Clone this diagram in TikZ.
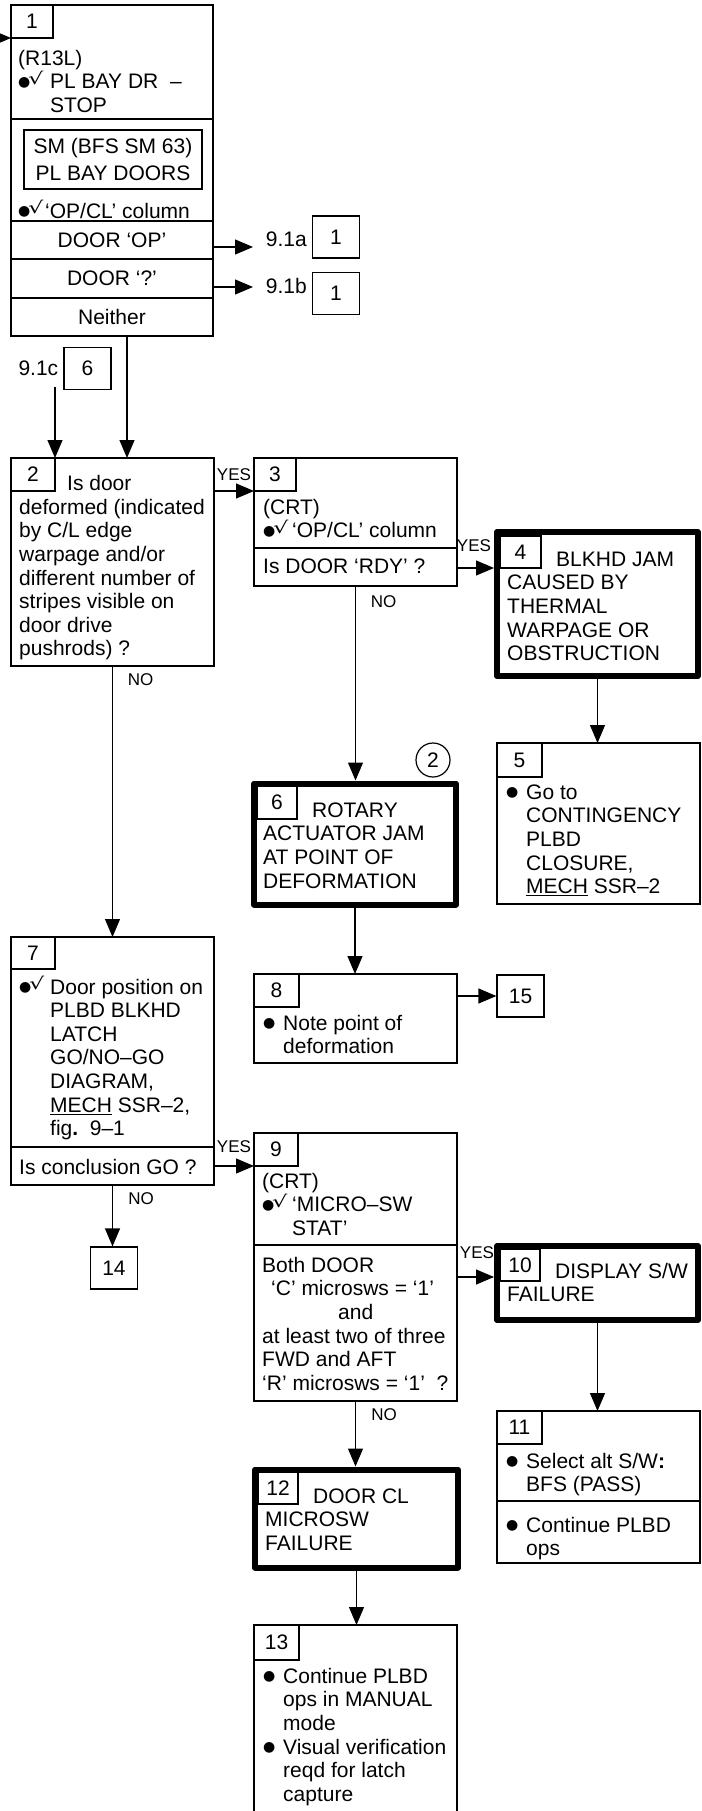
\documentclass[tikz,border=0pt]{standalone}
\usepackage{fontspec}
\setmainfont{Liberation Sans}
\newfontfamily\symf{DejaVu Sans}
\usetikzlibrary{arrows.meta,positioning}
\newcommand{\fs}{\fontsize{21}{23.6}\selectfont}
\newcommand{\tp}{\rule{0pt}{17pt}}
\newcommand{\bul}{\raisebox{2.5pt}{\symf\fontsize{14}{14}\selectfont ●}}
\newcommand{\chk}{\makebox[10pt][l]{\bul}\makebox[14pt][l]{\raisebox{4.5pt}{\scalebox{1.6}[1.1]{\symf\fontsize{15}{15}\selectfont √}}}}
\newcommand{\ck}[1]{\makebox[#1][l]{\chk}}
\newcommand{\li}{\makebox[20pt][l]{\bul}}
\tikzstyle{box} = [draw, rectangle, line width=1.2pt, inner sep=0pt, outer sep=0pt, anchor=north west]
\tikzstyle{heavy} = [box, line width=6pt, line join=round, outer sep=3pt]
\tikzstyle{txt} = [anchor=north west, inner sep=0pt, align=left]
\tikzstyle{lbl} = [inner sep=0pt, font=\fontsize{17}{17}\selectfont]
\tikzstyle{refbox} = [draw, line width=1.2pt, inner sep=0pt, minimum width=47pt, minimum height=42pt]
\tikzstyle{arr} = [line width=1.2pt, -{Triangle[length=18pt,width=15pt]}]
\begin{document}
\begin{tikzpicture}[x=1pt,y=-1pt,font=\fs]
\useasboundingbox (0,0) rectangle (701,1811);

% 1
\node[box, minimum width=202pt, minimum height=331pt] (b1) at (11,5) {};
\node[box, minimum width=42pt, minimum height=33pt] (n1) at (11,5) {1};
\foreach \y in {119,221,259,298}
    \draw[line width=1.2pt] (b1.west |- 0,\y) -- (b1.east |- 0,\y);
\node[txt] (t1) at (18,48) {\tp(R13L)\\\ck{32pt}PL BAY DR\ \ –\\\hspace*{32pt}STOP};
\node[box, anchor=center, align=center, minimum width=178pt, minimum height=59pt,
    font=\fontsize{21}{27}\selectfont] (sm) at (113,159.5) {SM (BFS SM 63)\\PL BAY DOORS};
\node[txt] (t1c) at (18,200) {\tp\ck{27pt}‘OP/CL’ column};
\node (op) at (112,240) {DOOR ‘OP’};
\node (dq) at (112,278.5) {DOOR ‘?’};
\node (ne) at (112,317) {Neither};
\coordinate (in1) at (-20,38);
\draw[arr] (in1) -- (n1.south west);

\node[refbox] (r1) at (336,237) {1};
\node[left=5pt of r1, inner sep=0pt, yshift=-2pt] (l1) {9.1a};
\node[refbox] (r2) at (336,293.5) {1};
\node[left=5pt of r2, inner sep=0pt, yshift=7.5pt] (l2) {9.1b};
\coordinate (e1) at (253,247);
\coordinate (e2) at (253,287);
\draw[arr] (b1.east |- e1) -- (e1);
\draw[arr] (b1.east |- e2) -- (e2);

\node[refbox] (r3) at (87.5,368.5) {6};
\node[left=5pt of r3, inner sep=0pt] (l3) {9.1c};
\coordinate (s3) at ([yshift=-11pt]l3.south);

% 2
\node[box, minimum width=203pt, minimum height=208pt] (b2) at (11,458) {};
\node[box, minimum width=44pt, minimum height=33pt] (n2) at (11,458) {2};
\node[txt] (t2) at (19,473.5) {\tp\hspace*{48pt}Is door\\deformed (indicated\\by C/L edge\\warpage and/or\\different number of\\stripes visible on\\door drive\\pushrods) ?};
\draw[arr] ([xshift=15pt]b1.south) -- ([xshift=15pt]b1.south |- b2.north);
\draw[arr] (s3 -| n2.north east) -- (n2.north east);

% 3
\node[box, minimum width=203pt, minimum height=128pt] (b3) at (254,458) {};
\node[box, minimum width=42pt, minimum height=33pt] (n3) at (254,458) {3};
\draw[line width=1.2pt] (b3.west |- 0,548) -- (b3.east |- 0,548);
\node[txt] (t3) at (263,497) {\tp(CRT)\\\ck{29pt}‘OP/CL’ column};
\node[txt] (t3b) at (263,556) {\tp Is DOOR ‘RDY’ ?};
\draw[arr] (b2.east |- n3.south) -- (n3.south west);
\node[lbl] (ys1) at (234,474.5) {YES};

% 4
\node[heavy, minimum width=201pt, minimum height=144pt] (b4) at (494,529) {};
\node[box, minimum width=41pt, minimum height=32pt] (n4) at (500,536) {4};
\node[txt] (t4) at (507,549) {\tp\hspace*{49pt}BLKHD JAM\\CAUSED BY\\THERMAL\\WARPAGE OR\\OBSTRUCTION};
\draw[arr] (b3.east |- n4.south) -- (b4.west |- n4.south);
\node[lbl] (ys2) at (474,546) {YES};
\node[lbl] (no1) at (383.5,602) {NO};
\node[lbl] (no0) at (140.5,679.5) {NO};

% 5
\node[box, minimum width=203pt, minimum height=161pt] (b5) at (497,743) {};
\node[box, minimum width=45pt, minimum height=34pt] (n5) at (497,743) {5};
\node[txt] (t5) at (506,782) {\tp\li Go to\\\hspace*{20pt}CONTINGENCY\\\hspace*{20pt}PLBD\\\hspace*{20pt}CLOSURE,\\\hspace*{20pt}\underline{MECH} SSR–2};
\draw[arr] (b4.south) -- (b4.south |- b5.north);

% 6
\node[heavy, minimum width=202pt, minimum height=121pt] (b6) at (251,780.5) {};
\node[box, minimum width=40pt, minimum height=33pt] (n6) at (257,786) {6};
\node[txt] (t6) at (263,800) {\tp\hspace*{49pt}ROTARY\\ACTUATOR JAM\\AT POINT OF\\DEFORMATION};
\node[draw, circle, line width=1.2pt, minimum size=34pt, inner sep=0pt] (c2) at (433,760) {2};
\draw[arr] (b3.south) -- (b3.south |- b6.north);

% 8
\node[box, minimum width=203pt, minimum height=89pt] (b8) at (254,974) {};
\node[box, minimum width=45pt, minimum height=33pt] (n8) at (254,974) {8};
\node[txt] (t8) at (263,1013) {\tp\li Note point of\\\hspace*{20pt}deformation};
\node[refbox] (k15) at (520.5,996) {15};
\draw[arr] (b6.south) -- (b6.south |- b8.north);
\draw[arr] (b8.east |- k15) -- (k15.west);

% 7
\node[box, minimum width=203pt, minimum height=248pt] (b7) at (11,937) {};
\node[box, minimum width=44pt, minimum height=32pt] (n7) at (11,937) {7};
\draw[line width=1.2pt] (b7.west |- 0,1147) -- (b7.east |- 0,1147);
\node[txt] (t7) at (19,976) {\tp\ck{31pt}Door position on\\\hspace*{31pt}PLBD BLKHD\\\hspace*{31pt}LATCH\\\hspace*{31pt}GO/NO–GO\\\hspace*{31pt}DIAGRAM,\\\hspace*{31pt}\underline{MECH} SSR–2,\\\hspace*{31pt}fig\textbf{.}\ \ 9–1};
\node[txt] (t7b) at (19,1157) {\tp Is conclusion GO ?};
\draw[arr] (b2.south) -- (b2.south |- b7.north);
\node[lbl] (ys3) at (234,1147) {YES};
\node[lbl] (no2) at (141,1198.5) {NO};
\node[refbox] (k14) at (114,1268) {14};
\draw[arr] (b7.south) -- (b7.south |- k14.north);

% 9
\node[box, minimum width=203pt, minimum height=268pt] (b9) at (254,1133) {};
\node[box, minimum width=44pt, minimum height=33pt] (n9) at (254,1133) {9};
\draw[line width=1.2pt] (b9.west |- 0,1245) -- (b9.east |- 0,1245);
\node[txt] (t9) at (262,1171) {\tp(CRT)\\\ck{30pt}‘MICRO–SW\\\hspace*{30pt}STAT’};
\node[txt] (t9b) at (262,1255) {\tp Both DOOR\\\hspace*{9pt}‘C’ microsws = ‘1’\\\hspace*{76pt}and\\at least two of three\\FWD and AFT\\‘R’ microsws = ‘1’\ \ ?};
\draw[arr] (b7.east |- n9.south) -- (n9.south west);

% 10
\node[heavy, minimum width=201pt, minimum height=74pt] (b10) at (494,1243) {};
\node[box, minimum width=40pt, minimum height=32pt] (n10) at (500,1249) {10};
\node[txt] (t10) at (507,1261) {\tp\hspace*{48pt}DISPLAY S/W\\FAILURE};
\coordinate (y10) at (0,1277);
\draw[arr] (b9.east |- y10) -- (b10.west |- y10);
\node[lbl] (ys4) at (477,1253) {YES};
\node[lbl] (no3) at (384,1414.5) {NO};

% 11
\node[box, minimum width=203pt, minimum height=152pt] (b11) at (497,1411) {};
\node[box, minimum width=45pt, minimum height=33pt] (n11) at (497,1411) {11};
\draw[line width=1.2pt] (b11.west |- 0,1501) -- (b11.east |- 0,1501);
\node[txt] (t11) at (506,1451) {\tp\li Select alt S/W\textbf{:}\\\hspace*{20pt}BFS (PASS)};
\node[txt] (t11b) at (506,1515) {\tp\li Continue PLBD\\\hspace*{20pt}ops};
\draw[arr] (b10.south) -- (b10.south |- b11.north);

% 12
\node[heavy, minimum width=203pt, minimum height=98pt] (b12) at (252,1466.5) {};
\node[box, minimum width=40pt, minimum height=32pt] (n12) at (258,1472) {12};
\node[txt] (t12) at (265,1486) {\tp\hspace*{48pt}DOOR CL\\MICROSW\\FAILURE};
\draw[arr] (b9.south) -- (b9.south |- b12.north);

% 13
\node[box, minimum width=203pt, minimum height=189pt] (b13) at (254,1625) {};
\node[box, minimum width=45pt, minimum height=35pt] (n13) at (254,1625) {13};
\node[txt] (t13) at (263,1666) {\tp\li Continue PLBD\\\hspace*{20pt}ops in MANUAL\\\hspace*{20pt}mode\\\li Visual verification\\\hspace*{20pt}reqd for latch\\\hspace*{20pt}capture};
\draw[arr] (b12.south) -- (b12.south |- b13.north);
\end{tikzpicture}
\end{document}
